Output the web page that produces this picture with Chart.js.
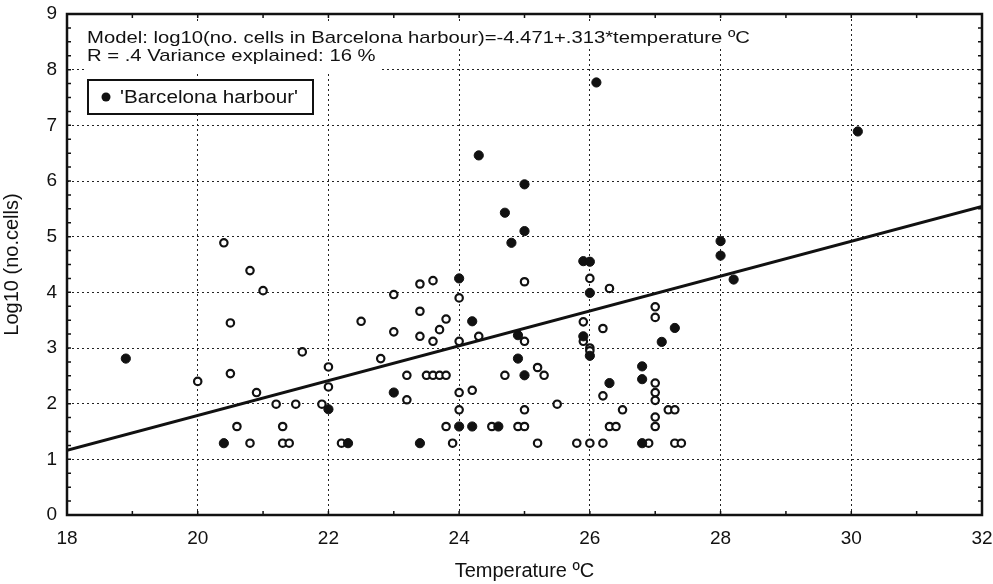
<!DOCTYPE html>
<html>
<head>
<meta charset="utf-8">
<script src="https://cdn.jsdelivr.net/npm/chart.js@4/dist/chart.umd.min.js"></script>
<style>
html,body{margin:0;padding:0;background:#fff;}
#wrap{width:993px;height:584px;position:relative;}
</style>
</head>
<body>
<div id="wrap"><canvas id="c" width="993" height="584"></canvas></div>
<script>
// ---- data ----
const filledX = [18.9,20.4,22.0,22.3,23.0,23.4,24.0,24.0,24.2,24.2,24.3,24.6,24.7,24.8,24.9,24.9,25.0,25.0,25.0,25.9,26.0,25.9,26.0,26.0,26.1,26.3,26.8,26.8,26.8,27.1,27.3,28.0,28.0,28.2,30.1];
const filledY = [2.81,1.29,1.90,1.29,2.20,1.29,4.25,1.59,3.48,1.59,6.46,1.59,5.43,4.89,3.23,2.81,5.94,5.10,2.51,4.56,4.55,3.21,3.99,2.86,7.77,2.37,2.67,2.44,1.29,3.11,3.36,4.92,4.66,4.23,6.89];
const openX = [20.0,20.4,20.8,21.0,20.5,20.5,21.6,22.0,22.0,20.9,21.2,21.5,21.9,20.6,21.3,20.8,21.3,21.4,22.2,
  23.0,22.5,23.4,23.6,23.4,23.8,23.7,23.0,23.4,23.6,24.0,24.3,24.0,25.0,25.0,22.8,23.2,23.5,23.6,23.7,23.8,24.7,25.2,25.3,
  23.2,24.0,24.2,24.0,25.0,25.5,23.8,24.5,24.9,25.0,23.9,25.2,25.8,26.0,26.2,26.9,
  26.0,26.3,25.9,26.2,25.9,26.0,26.0,26.2,26.5,26.3,26.4,27.0,27.0,27.0,27.0,27.0,27.0,27.0,27.2,27.3,27.3,27.4];
const openY = [2.40,4.89,4.39,4.03,3.45,2.54,2.93,2.66,2.30,2.20,1.99,1.99,1.99,1.59,1.59,1.29,1.29,1.29,1.29,
  3.96,3.48,4.15,4.21,3.66,3.52,3.33,3.29,3.21,3.12,3.90,3.21,3.12,3.12,4.19,2.81,2.51,2.51,2.51,2.51,2.51,2.51,2.65,2.51,
  2.07,2.20,2.24,1.89,1.89,1.99,1.59,1.59,1.59,1.59,1.29,1.29,1.29,1.29,1.29,1.29,
  4.25,4.07,3.47,3.35,3.12,3.00,2.95,2.14,1.89,1.59,1.59,3.74,3.55,2.37,2.20,2.06,1.76,1.59,1.89,1.89,1.29,1.29];
const modelIntercept = -4.471;
const modelSlope = 0.313;
const xRange = [18, 32];
const yRange = [0, 9];
const seriesName = "'Barcelona harbour'";
const modelText = "Model: log10(no. cells in Barcelona harbour)=-4.471+.313*temperature \u00BAC";
const statText = "R = .4 Variance explained: 16 %";
const xTitle = "Temperature \u00BAC";
const yTitle = "Log10 (no.cells)";

const FONT = "'Liberation Sans', Arial, sans-serif";
const pts = (xs, ys) => xs.map((x, i) => ({x: x, y: ys[i]}));
const lineData = xRange.map(x => ({x: x, y: modelIntercept + modelSlope * x}));

function wideText(ctx, txt, x, y, sx) {
  ctx.save();
  ctx.translate(x, y);
  ctx.scale(sx, 1);
  ctx.fillText(txt, 0, 0);
  ctx.restore();
}

const decor = {
  id: 'decor',
  beforeDatasetsDraw(chart) {
    const {ctx, chartArea: a} = chart;
    ctx.save();
    ctx.fillStyle = '#fff';
    ctx.fillRect(a.left + 17, a.top + 8, 670, 26);
    ctx.fillRect(a.left + 17, a.top + 30, 296, 28);
    ctx.fillRect(a.left + 21, a.top + 65, 226, 35);
    ctx.restore();
  },
  afterDraw(chart) {
    const {ctx, chartArea: a, scales: {x, y}} = chart;
    ctx.save();
    // minor ticks
    ctx.strokeStyle = '#111';
    ctx.lineWidth = 1.5;
    ctx.beginPath();
    for (let v = xRange[0]; v <= xRange[1]; v += 1) {
      const px = x.getPixelForValue(v);
      ctx.moveTo(px, a.bottom); ctx.lineTo(px, a.bottom - 4);
      ctx.moveTo(px, a.top); ctx.lineTo(px, a.top + 4);
    }
    for (let v = yRange[0]; v <= yRange[1]; v += 0.25) {
      const py = y.getPixelForValue(v);
      ctx.moveTo(a.left, py); ctx.lineTo(a.left + 4, py);
      ctx.moveTo(a.right, py); ctx.lineTo(a.right - 4, py);
    }
    ctx.stroke();
    // frame
    ctx.lineWidth = 2.5;
    ctx.strokeStyle = '#111';
    ctx.strokeRect(a.left, a.top, a.right - a.left, a.bottom - a.top);
    // annotation text
    ctx.fillStyle = '#111';
    ctx.font = '17px ' + FONT;
    ctx.textBaseline = 'alphabetic';
    ctx.textAlign = 'left';
    const sx = 663 / ctx.measureText(modelText).width;
    wideText(ctx, modelText, a.left + 20, a.top + 29, sx);
    wideText(ctx, statText, a.left + 20, a.top + 47, sx);
    // legend box
    const bx = a.left + 21, by = a.top + 66, bw = 225, bh = 34;
    ctx.lineWidth = 2;
    ctx.strokeRect(bx, by, bw, bh);
    ctx.beginPath();
    ctx.arc(bx + 18, by + bh / 2, 4.5, 0, Math.PI * 2);
    ctx.fill();
    ctx.font = '18px ' + FONT;
    ctx.textBaseline = 'middle';
    const lx = 178 / ctx.measureText(seriesName).width;
    wideText(ctx, seriesName, bx + 32, by + bh / 2 + 1, lx);
    ctx.restore();
  }
};

new Chart(document.getElementById('c'), {
  type: 'scatter',
  data: {
    datasets: [
      {label: 'model', type: 'line', data: lineData, borderColor: '#111', borderWidth: 3, pointRadius: 0, fill: false, order: 0},
      {label: seriesName, data: pts(filledX, filledY), pointRadius: 4.6, pointBackgroundColor: '#111', pointBorderColor: '#111', pointBorderWidth: 1, order: 1},
      {label: 'open', data: pts(openX, openY), pointRadius: 3.7, pointBackgroundColor: '#fff', pointBorderColor: '#111', pointBorderWidth: 2.2, order: 2}
    ]
  },
  options: {
    responsive: false,
    animation: false,
    events: [],
    layout: {padding: {left: 0, top: 14, right: 11, bottom: 0}},
    plugins: {legend: {display: false}, tooltip: {enabled: false}},
    scales: {
      x: {
        type: 'linear', min: xRange[0], max: xRange[1],
        afterFit: s => { s.height = 69; s.paddingLeft = 0; s.paddingRight = 0; },
        ticks: {stepSize: 2, padding: 12, color: '#111', font: {family: FONT, size: 19}},
        grid: {color: '#222', lineWidth: 1, drawTicks: false},
        border: {display: false, dash: [2, 3]},
        title: {display: true, text: xTitle, color: '#111', font: {family: FONT, size: 20}, padding: {top: 0, bottom: 1}}
      },
      y: {
        type: 'linear', min: yRange[0], max: yRange[1],
        afterFit: s => { s.width = 67; s.paddingTop = 0; s.paddingBottom = 0; },
        ticks: {stepSize: 1, padding: 10, color: '#111', font: {family: FONT, size: 19}},
        grid: {color: '#222', lineWidth: 1, drawTicks: false},
        border: {display: false, dash: [2, 3]},
        title: {display: true, text: yTitle, color: '#111', font: {family: FONT, size: 20}, padding: {top: 0, bottom: 4}}
      }
    }
  },
  plugins: [decor]
});
</script>
</body>
</html>
